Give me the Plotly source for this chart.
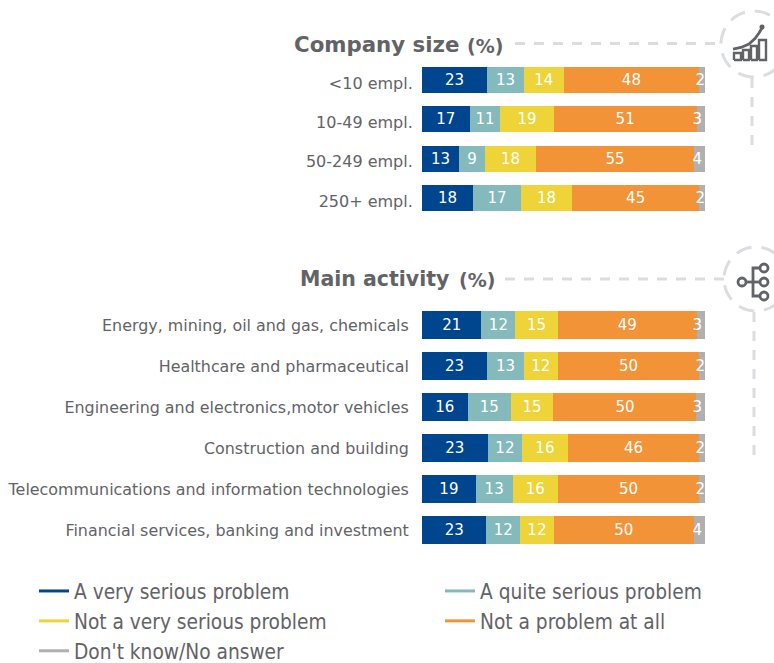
import plotly.graph_objects as go

size_cats = ["<10 empl.", "10-49 empl.", "50-249 empl.", "250+ empl."]
activity_cats = [
    "Energy, mining, oil and gas, chemicals",
    "Healthcare and pharmaceutical",
    "Engineering and electronics,motor vehicles",
    "Construction and building",
    "Telecommunications and information technologies",
    "Financial services, banking and investment",
]
series_names = ["A very serious problem", "A quite serious problem", "Not a very serious problem",
                "Not a problem at all", "Don't know/No answer"]
colors = ["#00468F", "#85BABC", "#EED438", "#F29337", "#B0B0B0"]
anchors = ["middle", "middle", "middle", "middle", "end"]

very_size = [23, 17, 13, 18]
quite_size = [13, 11, 9, 17]
notvery_size = [14, 19, 18, 18]
notatall_size = [48, 51, 55, 45]
dk_size = [2, 3, 4, 2]

very_act = [21, 23, 16, 23, 19, 23]
quite_act = [12, 13, 15, 12, 13, 12]
notvery_act = [15, 12, 15, 16, 16, 12]
notatall_act = [49, 50, 50, 46, 50, 50]
dk_act = [3, 2, 3, 2, 2, 4]

W, H = 774, 663
GREY = "#626366"
DASH = "#DCDDE0"
FONT = "DejaVu Sans"


def px(x):
    return x / W


def py(y):
    return 1 - y / H


fig = go.Figure()
for name, col, anc, v1, v2 in zip(series_names, colors, anchors,
                                  [very_size, quite_size, notvery_size, notatall_size, dk_size],
                                  [very_act, quite_act, notvery_act, notatall_act, dk_act]):
    for cats, vals, xa, ya in ((size_cats, v1, "x", "y"), (activity_cats, v2, "x2", "y2")):
        fig.add_trace(go.Bar(
            y=cats, x=vals, orientation="h", xaxis=xa, yaxis=ya, name=name,
            marker=dict(color=col, line=dict(width=0)),
            text=vals, textposition="inside", insidetextanchor=anc, textangle=0,
            constraintext="none", cliponaxis=False,
            textfont=dict(color="white", size=15, family=FONT),
            showlegend=False, hoverinfo="x+y+name",
        ))

# legend entries
legend_ids = ["legend", "legend", "legend", "legend2", "legend2"]
order = [0, 2, 4, 1, 3]
for i, lg in zip(order, legend_ids):
    fig.add_trace(go.Scatter(
        x=[None], y=[None], mode="lines", name=series_names[i],
        line=dict(color=colors[i], width=3), legend=lg, legendgroup=series_names[i],
        xaxis="x", yaxis="y", showlegend=True,
    ))

legend_common = dict(
    bgcolor="rgba(0,0,0,0)", borderwidth=0, orientation="v", xanchor="left", yanchor="top",
    font=dict(size=20.7, color=GREY, family="DejaVu Sans Condensed, " + FONT),
    tracegroupgap=5, itemwidth=30, traceorder="normal",
)

shapes = []


def seg(x0, y0, x1, y1, col=DASH, w=3, dash="10px,9px"):
    shapes.append(dict(type="line", xref="paper", yref="paper", x0=px(x0), x1=px(x1), y0=py(y0), y1=py(y1),
                       line=dict(color=col, width=w, dash=dash)))


def circ(cx, cy, r, col=DASH, w=3, dash="16px,10px"):
    shapes.append(dict(type="circle", xref="paper", yref="paper", x0=px(cx - r), x1=px(cx + r),
                       y0=py(cy - r), y1=py(cy + r), line=dict(color=col, width=w, dash=dash)))


def path(points, col=GREY, w=2.5):
    d = "M " + " L ".join(f"{px(a):.5f},{py(b):.5f}" for a, b in points)
    shapes.append(dict(type="path", xref="paper", yref="paper", path=d, line=dict(color=col, width=w)))


seg(515, 43.5, 722, 43.5)
circ(754, 44, 33)
seg(752, 78, 752, 151)
seg(505, 279, 724, 279)
circ(756, 279, 32)
seg(754, 312, 754, 460)

# growth icon
for x0, x1, top in ((734, 741, 53), (743, 749, 50), (751, 757, 46), (759, 766, 40)):
    path([(x0, 60), (x0, top), (x1, top), (x1, 60), (x0, 60)], w=2.4)
path([(733, 49), (741, 47.5), (749, 44), (755, 38.5), (759, 33), (762, 28)], w=2.8)
shapes.append(dict(type="circle", xref="paper", yref="paper", fillcolor=GREY, line=dict(width=0),
                   x0=px(759.5), x1=px(764.5), y0=py(24.5), y1=py(29.5)))

# network icon
circ(742, 282, 4, GREY, 2.8, "solid")
for cy in (268, 282, 296):
    circ(764, cy, 4, GREY, 2.8, "solid")
path([(746, 282), (760, 282)], w=2.8)
path([(760, 268), (753, 268), (753, 296), (760, 296)], w=2.8)


def note(x, y, text, size):
    return dict(x=px(x), y=py(y), xref="paper", yref="paper", xanchor="left", yanchor="middle",
                showarrow=False, text=f"<b>{text}</b>", font=dict(size=size, color=GREY, family=FONT))


annotations = [
    note(292, 45, "Company size", 21.3),
    note(465, 46, "(%)", 19),
    note(298, 279, "Main activity", 20.5),
    note(457, 280, "(%)", 19),
]

fig.update_layout(
    width=W, height=H, autosize=False,
    margin=dict(l=0, r=0, t=0, b=0, autoexpand=False), paper_bgcolor="white", plot_bgcolor="white",
    barmode="stack", barnorm="percent", bargap=0.34, uniformtext=dict(mode=False),
    font=dict(family=FONT, color=GREY),
    xaxis=dict(domain=[px(422), px(705)], range=[0, 100.001], visible=False, fixedrange=True, anchor="y"),
    xaxis2=dict(domain=[px(422), px(705)], range=[0, 100.001], visible=False, fixedrange=True, anchor="y2"),
    yaxis=dict(domain=[py(217.6), py(60.4)], autorange="reversed", categoryorder="array", categoryarray=size_cats,
               showline=False, showgrid=False, zeroline=False, ticks="outside", ticklen=5, ticklabelshift=-3,
               tickcolor="rgba(0,0,0,0)", tickfont=dict(size=16, color=GREY, family=FONT), anchor="x"),
    yaxis2=dict(domain=[py(550.5), py(304.5)], autorange="reversed", categoryorder="array",
                categoryarray=activity_cats, showline=False, showgrid=False, zeroline=False, ticks="outside",
                ticklen=9, tickcolor="rgba(0,0,0,0)", tickfont=dict(size=15.9, color=GREY, family=FONT),
                anchor="x2"),
    legend=dict(x=px(34), y=py(571), **legend_common),
    legend2=dict(x=px(440), y=py(571), **legend_common),
    shapes=shapes, annotations=annotations,
)

fig.write_html("out.html", config=dict(displayModeBar=False),
               post_script="document.body.style.margin='0';document.documentElement.style.overflow='hidden';")
